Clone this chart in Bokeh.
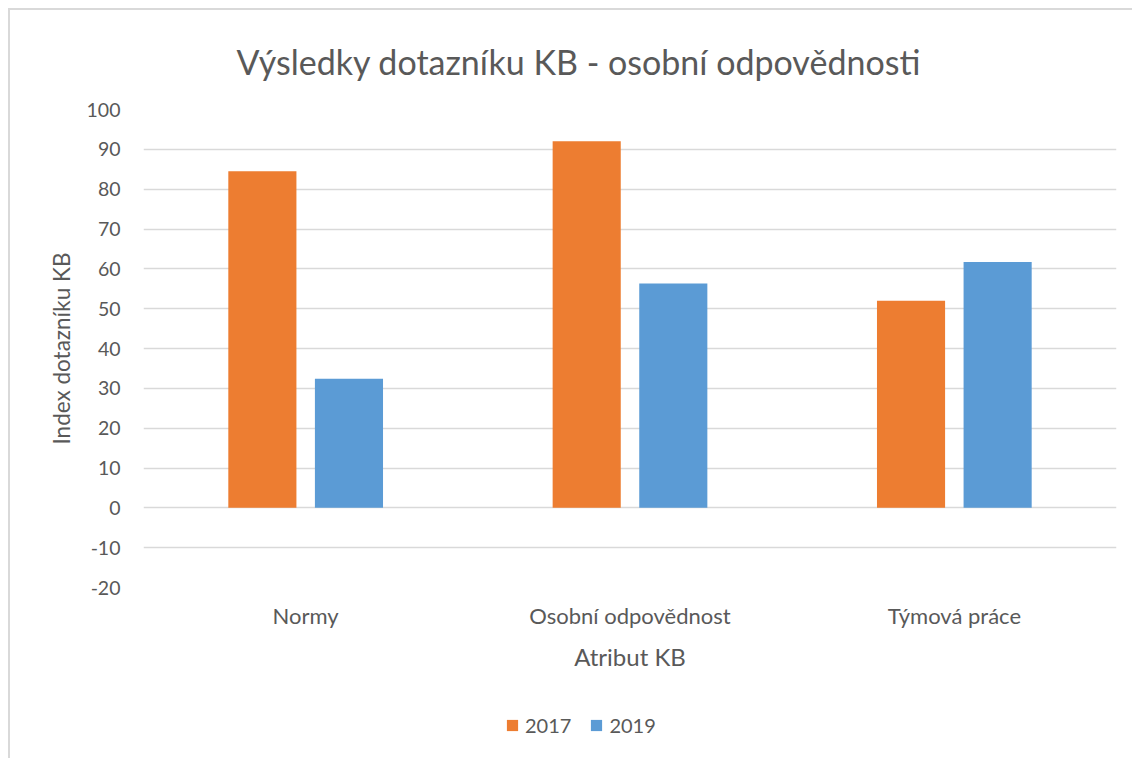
from bokeh.plotting import figure
from bokeh.layouts import column
from bokeh.models import (FactorRange, Range1d, FixedTicker, Legend, LegendItem,
                          ColumnDataSource)
from bokeh.transform import dodge
from bokeh.embed import file_html
from bokeh.resources import INLINE

categories = ["Normy", "Osobní odpovědnost", "Týmová práce"]
series_names = ["2017", "2019"]
values_2017 = [84.5, 92.0, 52.0]
values_2019 = [32.4, 56.3, 61.7]
y_ticks = [-20, -10, 0, 10, 20, 30, 40, 50, 60, 70, 80, 90, 100]

FONT = "Lato"
TXT = "#595959"
ORANGE = "#ED7D31"
BLUE = "#5B9BD5"
W = 1122

src = ColumnDataSource(dict(cat=categories, v2017=values_2017, v2019=values_2019))

p = figure(width=W, height=690, output_backend="svg", toolbar_location=None,
           x_range=FactorRange(factors=categories, range_padding=0),
           y_range=Range1d(-20, 100),
           min_border_left=133, min_border_right=16, min_border_top=99,
           min_border_bottom=113)
p.background_fill_color = "white"
p.border_fill_color = "white"
p.outline_line_color = None

r1 = p.vbar(x=dodge("cat", -0.1335, range=p.x_range), top="v2017", width=0.21,
            source=src, fill_color=ORANGE, line_color=None)
r2 = p.vbar(x=dodge("cat", 0.1335, range=p.x_range), top="v2019", width=0.21,
            source=src, fill_color=BLUE, line_color=None)

# grid
p.xgrid.grid_line_color = None
p.ygrid.grid_line_color = "#D9D9D9"
p.ygrid.grid_line_width = 1.5
p.ygrid.level = "underlay"
p.yaxis.ticker = FixedTicker(ticks=y_ticks)
p.yaxis.major_label_overrides = {t: str(t) for t in y_ticks}

for ax in (p.xaxis[0], p.yaxis[0]):
    ax.axis_line_color = None
    ax.major_tick_line_color = None
    ax.minor_tick_line_color = None
    ax.major_tick_out = 0
    ax.major_tick_in = 0
    ax.minor_tick_out = 0
    ax.major_label_text_font = FONT
    ax.major_label_text_color = TXT
    ax.axis_label_text_font = FONT
    ax.axis_label_text_color = TXT
    ax.axis_label_text_font_style = "normal"

p.yaxis.major_label_text_font_size = "19.5px"
p.xaxis.major_label_text_font_size = "22px"
p.yaxis.axis_label_text_font_size = "22.5px"
p.xaxis.axis_label_text_font_size = "24px"
p.yaxis.axis_label = "Index dotazníku KB"
p.yaxis.major_label_standoff = 23
p.yaxis.axis_label_standoff = 9
p.xaxis.axis_label = "Atribut KB"
p.xaxis.major_label_standoff = 14
p.xaxis.axis_label_standoff = 10

# title
p.title.text = "Výsledky dotazníku KB - osobní odpovědnosti"
p.title.text_font = FONT
p.title.text_font_size = "34px"
p.title.text_font_style = "normal"
p.title.text_color = TXT
p.title.align = "left"
p.title.offset = 93
p.title.standoff = 55

# legend strip: a small figure whose bars lie below its visible range,
# used only so the legend can draw its swatches
lf = figure(width=W, height=58, output_backend="svg", toolbar_location=None,
            x_range=FactorRange(factors=categories), y_range=Range1d(1000, 1001),
            min_border_left=0, min_border_right=0, min_border_top=0,
            min_border_bottom=0)
lf.axis.visible = False
lf.grid.visible = False
lf.outline_line_color = None
lf.background_fill_color = "white"
lf.border_fill_color = "white"
s1 = lf.vbar(x="cat", top="v2017", width=0.2, source=src, fill_color=ORANGE, line_color=None)
s2 = lf.vbar(x="cat", top="v2019", width=0.2, source=src, fill_color=BLUE, line_color=None)
legend = Legend(items=[LegendItem(label=series_names[0], renderers=[s1]),
                       LegendItem(label=series_names[1], renderers=[s2])],
                orientation="horizontal", location=(362, 21),
                glyph_width=14, glyph_height=14, label_standoff=6, spacing=18,
                padding=0, margin=0, border_line_color=None,
                background_fill_alpha=0,
                label_text_font=FONT, label_text_font_size="20px",
                label_text_color=TXT)
lf.add_layout(legend)

layout = column(p, lf, spacing=0, margin=(8, 0, 0, 8),
                styles={"border-top": "2px solid #D9D9D9",
                        "border-left": "2px solid #D9D9D9"})

open("out.html", "w").write(file_html(layout, INLINE))
